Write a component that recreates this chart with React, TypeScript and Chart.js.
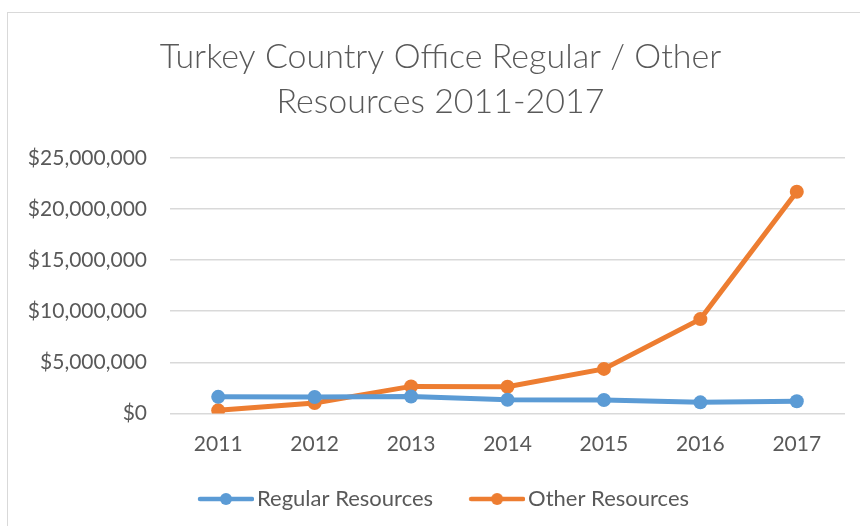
import React, { useEffect, useRef } from "react";
import { Chart, registerables } from "chart.js";

Chart.register(...registerables);

const years = ["2011", "2012", "2013", "2014", "2015", "2016", "2017"];
const regularResources = [1620000, 1610000, 1650000, 1340000, 1310000, 1080000, 1190000];
const otherResources = [300000, 1020000, 2640000, 2610000, 4350000, 9220000, 21680000];
const yTickValues = [0, 5000000, 10000000, 15000000, 20000000, 25000000];
const titleLines = ["Turkey Country Office Regular / Other", "Resources 2011-2017"];
const seriesNames = ["Regular Resources", "Other Resources"];
const seriesColors = ["#5B9BD5", "#ED7D31"];

const TEXT = "#595959";
const GRID = "#D9D9D9";
const FONT = "Lato";
const LEGEND_SHIFT = 20;
const TITLE_SHIFT = 18;

function makeMarker(color: string): HTMLCanvasElement {
  const c = document.createElement("canvas");
  c.width = 66;
  c.height = 16;
  const ctx = c.getContext("2d")!;
  ctx.strokeStyle = color;
  ctx.lineWidth = 4.5;
  ctx.lineCap = "round";
  ctx.beginPath();
  ctx.moveTo(12, 8);
  ctx.lineTo(64, 8);
  ctx.stroke();
  ctx.fillStyle = color;
  ctx.beginPath();
  ctx.arc(38, 8, 6, 0, Math.PI * 2);
  ctx.fill();
  return c;
}

const boxShift = {
  id: "boxShift",
  afterLayout(chart: any) {
    if (chart.legend) {
      chart.legend.left += LEGEND_SHIFT;
      chart.legend.right += LEGEND_SHIFT;
    }
    if (chart.titleBlock) {
      chart.titleBlock.left += TITLE_SHIFT;
      chart.titleBlock.right += TITLE_SHIFT;
    }
  },
};

export default function App() {
  const ref = useRef<HTMLCanvasElement | null>(null);

  useEffect(() => {
    if (!ref.current) return;
    const markers = seriesColors.map(makeMarker);
    const chart = new Chart(ref.current, {
      type: "line",
      data: {
        labels: years,
        datasets: [
          {
            label: seriesNames[0],
            data: regularResources,
            borderColor: seriesColors[0],
            backgroundColor: seriesColors[0],
            borderWidth: 5,
            pointRadius: 7,
            pointBorderWidth: 0,
            pointBackgroundColor: seriesColors[0],
            tension: 0,
          },
          {
            label: seriesNames[1],
            data: otherResources,
            borderColor: seriesColors[1],
            backgroundColor: seriesColors[1],
            borderWidth: 5,
            pointRadius: 7,
            pointBorderWidth: 0,
            pointBackgroundColor: seriesColors[1],
            tension: 0,
          },
        ],
      },
      plugins: [boxShift],
      options: {
        animation: false,
        responsive: false,
        maintainAspectRatio: false,
        layout: { padding: { left: 0, right: 15, top: 0, bottom: 6 } },
        plugins: {
          title: {
            display: true,
            text: titleLines,
            color: TEXT,
            font: { family: FONT, size: 34, weight: "300", lineHeight: 1.32 },
            padding: { top: 35, bottom: 33 },
          },
          legend: {
            position: "bottom",
            labels: {
              usePointStyle: true,
              pointStyleWidth: 50,
              padding: 34,
              color: TEXT,
              font: { family: FONT, size: 22 },
              generateLabels: (ch: any) =>
                ch.data.datasets.map((ds: any, i: number) => ({
                  text: ds.label,
                  pointStyle: markers[i],
                  fillStyle: seriesColors[i],
                  strokeStyle: seriesColors[i],
                  lineWidth: 0,
                  hidden: false,
                  datasetIndex: i,
                  fontColor: TEXT,
                })),
            },
          },
          tooltip: { enabled: false },
        },
        scales: {
          x: {
            offset: true,
            grid: { display: false, drawTicks: false },
            border: { display: false },
            ticks: { color: TEXT, font: { family: FONT, size: 21 }, padding: 18.5 },
            afterFit: (s: any) => {
              s.height = 40.6;
            },
          },
          y: {
            min: 0,
            max: 25000000,
            afterBuildTicks: (s: any) => {
              s.ticks = yTickValues.map((v) => ({ value: v }));
            },
            afterFit: (s: any) => {
              s.width = 170;
            },
            ticks: {
              color: TEXT,
              font: { family: FONT, size: 21 },
              padding: 23,
              callback: (v: any) => "$" + Number(v).toLocaleString("en-US"),
            },
            grid: { color: GRID, lineWidth: 1.5, drawTicks: false },
            border: { display: false },
          },
        },
      },
    });
    return () => chart.destroy();
  }, []);

  return (
    <div style={{ position: "absolute", left: 0, top: 0, width: 860, height: 526, background: "#fff", overflow: "hidden" }}>
      <div style={{ position: "absolute", left: 7, top: 12, width: 900, height: 600, border: "1.5px solid #D9D9D9" }} />
      <canvas ref={ref} width={860} height={526} style={{ position: "absolute", left: 0, top: 0 }} />
    </div>
  );
}
